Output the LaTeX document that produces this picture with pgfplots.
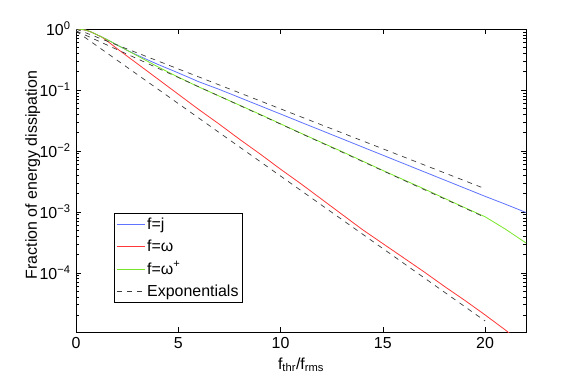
\documentclass[border=0pt]{standalone}
\usepackage{fontspec}
\setmainfont{Liberation Sans}
\usepackage{pgfplots}
\pgfplotsset{compat=1.18}
\definecolor{mblue}{RGB}{95,115,255}
\definecolor{mred}{RGB}{255,55,55}
\definecolor{mgreen}{RGB}{120,230,40}
\definecolor{mgray}{RGB}{60,60,60}

\begin{document}
\fontsize{16}{19}\selectfont
\begin{tikzpicture}
\begin{axis}[
    name=ax,
    scale only axis,
    width=450bp, height=303bp,
    ymode=log,
    xmin=0, xmax=22,
    ymin=1.07e-5, ymax=1,
    xtick={0,5,10,15,20},
    ytick={1,0.1,0.01,0.001,0.0001},
    yticklabels={10\textsuperscript{0},10\textsuperscript{−1},10\textsuperscript{−2},10\textsuperscript{−3},10\textsuperscript{−4}},
    minor ytick={2e-5,3e-5,4e-5,5e-5,6e-5,7e-5,8e-5,9e-5,
                 2e-4,3e-4,4e-4,5e-4,6e-4,7e-4,8e-4,9e-4,
                 2e-3,3e-3,4e-3,5e-3,6e-3,7e-3,8e-3,9e-3,
                 2e-2,3e-2,4e-2,5e-2,6e-2,7e-2,8e-2,9e-2,
                 2e-1,3e-1,4e-1,5e-1,6e-1,7e-1,8e-1,9e-1},
    /pgf/number format/assume math mode=true,
    tick label style={font=\fontsize{16}{19}\selectfont},
    major tick length=5bp, minor tick length=3bp,
    tick style={line width=0.5bp, black},
    axis line style={line width=0.6bp},
    xlabel={f\textsubscript{thr}/f\textsubscript{rms}},
    ylabel={Fraction of energy dissipation},
    label style={font=\fontsize{16}{19}\selectfont},
    ylabel style={at={(axis description cs:-0.096,0.518)}, anchor=center},
    xlabel style={yshift=2bp},
    legend cell align=left,
    legend style={at={(0.085,0.097)}, anchor=south west,
        font=\fontsize{16}{19}\selectfont,
        inner xsep=2bp, inner ysep=2bp, row sep=4bp},
    legend image code/.code={\draw[mark repeat=2,mark phase=2,#1] plot coordinates {(0bp,0bp) (14bp,0bp) (28bp,0bp)};},
    every axis plot/.append style={line width=0.8bp},
]
% f = j
\addplot[color=mblue] coordinates {
    (0,1) (0.25,0.9886) (0.5,0.9550) (0.75,0.8913) (1,0.8128) (1.25,0.7413)
    (1.5,0.6761) (2,0.5495) (2.5,0.4467) (3,0.3715) (4,0.2630) (5,0.1905)
    (6,0.1365) (7,0.1023) (8,0.0750) (9,0.0550) (10,0.0403) (11,0.0295)
    (12,0.02163) (13,0.01585) (14,0.01161) (15,0.00851) (16,0.00624)
    (17,0.00457) (18,0.00335) (19,0.002455) (20,0.001799) (21,0.001334)
    (22,0.000977)
};
% f = omega
\addplot[color=mred] coordinates {
    (0,1) (0.25,0.9886) (0.5,0.9550) (0.75,0.8913) (1,0.8128) (1.25,0.7413)
    (1.5,0.6457) (2,0.4786) (3,0.2692) (4,0.1514) (5,0.08511) (6,0.04786)
    (7,0.02754) (8,0.01549) (9,0.008913) (10,0.005012) (11,0.002884)
    (12,0.001622) (13,0.000912) (14,0.000513) (15,0.000302) (16,0.000178)
    (17,0.0001047) (18,6.03e-5) (19,3.55e-5) (20,2.04e-5) (21,1.148e-5)
    (21.3,9.55e-6)
};
% f = omega^+
\addplot[color=mgreen] coordinates {
    (0,1) (0.25,0.9886) (0.5,0.9550) (0.75,0.8913) (1,0.8128) (1.25,0.7413)
    (1.5,0.6761) (2,0.5495) (2.5,0.4467) (3,0.3631) (4,0.2399) (5,0.1622)
    (6,0.1122) (7,0.07943) (8,0.05623) (9,0.03981) (10,0.02786) (11,0.01950)
    (12,0.01380) (13,0.00977) (14,0.00684) (15,0.004786) (16,0.003388)
    (17,0.002399) (18,0.001679) (19,0.001175) (20,0.000832) (21,0.000519)
    (22,0.000309)
};
% exponential fits
\addplot[color=mgray, line width=0.7bp, dash pattern=on 5bp off 5bp] coordinates {(0,1) (20,0.0023988)};
\addplot[color=mgray, line width=0.7bp, dash pattern=on 5bp off 5bp, forget plot] coordinates {(0,0.9333) (20,0.000813)};
\addplot[color=mgray, line width=0.7bp, dash pattern=on 5bp off 5bp, forget plot] coordinates {(0,0.9247) (20,1.622e-5)};
\legend{f=j, f=ω, f=ω\textsuperscript{+}, Exponentials}
\end{axis}
\pgfresetboundingbox
\useasboundingbox ([shift={(-76bp,-48bp)}]ax.south west) rectangle ([shift={(55bp,29bp)}]ax.north east);
\end{tikzpicture}
\end{document}
